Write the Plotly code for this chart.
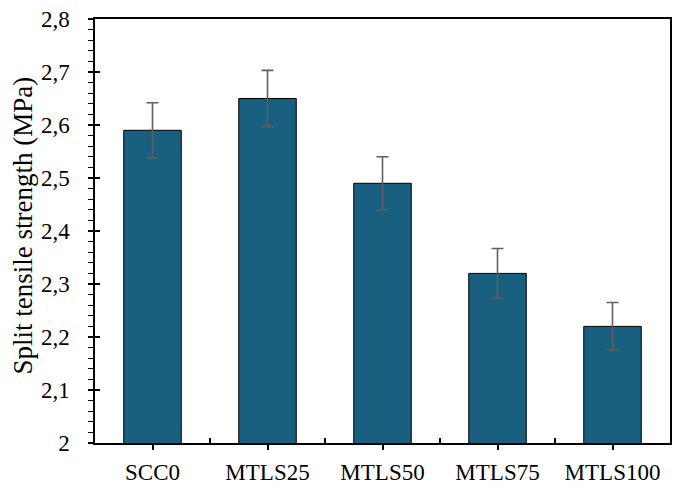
import plotly.graph_objects as go

categories = ["SCC0", "MTLS25", "MTLS50", "MTLS75", "MTLS100"]
strength = [2.59, 2.65, 2.49, 2.32, 2.22]
errors = [0.052, 0.053, 0.050, 0.047, 0.045]
y_title = "Split tensile strength (MPa)"

font_family = "Liberation Serif, Times New Roman, serif"

fig = go.Figure()
fig.add_trace(go.Bar(
    x=categories, y=strength, width=0.5,
    marker=dict(color="#185f80", line=dict(color="#000000", width=1)),
    error_y=dict(type="data", array=errors, visible=True,
                 color="#5f5f5f", thickness=1.6, width=6),
    showlegend=False,
))
# invisible trace for overlay axes (inside ticks)
fig.add_trace(go.Scatter(x=[0], y=[2], xaxis="x2", yaxis="y2",
                         mode="markers", marker=dict(opacity=0),
                         showlegend=False, hoverinfo="skip"))

fig.update_layout(
    width=675, height=485,
    margin=dict(l=95, r=5, t=19, b=42),
    paper_bgcolor="white", plot_bgcolor="white",
    separators=", ",
    font=dict(family=font_family, size=23, color="#000000"),
    bargap=0.5,
    xaxis=dict(
        type="category", showline=True, linecolor="black", linewidth=1.5,
        mirror=True, ticks="outside", ticklen=5, tickwidth=1.5,
        tickcolor="black", showgrid=False, zeroline=False,
        tickfont=dict(size=23), ticklabelstandoff=3, automargin=False,
    ),
    yaxis=dict(
        range=[2, 2.8], dtick=0.1, showline=True, linecolor="black",
        linewidth=1.5, mirror=True, ticks="outside", ticklen=5,
        tickwidth=1.5, tickcolor="black", showgrid=False, zeroline=False,
        tickfont=dict(size=23), ticklabelstandoff=14, automargin=False,
        minor=dict(dtick=0.02, ticks="outside", ticklen=5,
                   tickwidth=1.2, tickcolor="black", showgrid=False),
    ),
    xaxis2=dict(
        overlaying="x", range=[-0.5, 4.5], tickvals=[0.5, 1.5, 2.5, 3.5],
        ticks="inside", ticklen=5, tickwidth=1.5, tickcolor="black",
        showticklabels=False, showgrid=False, zeroline=False,
        showline=False, side="bottom", anchor="y2", automargin=False,
    ),
    yaxis2=dict(
        overlaying="y", range=[2, 2.8], dtick=0.1, ticks="inside",
        ticklen=5, tickwidth=1.5, tickcolor="black",
        showticklabels=False, showgrid=False, zeroline=False,
        showline=False, side="left", anchor="x2", automargin=False,
    ),
    annotations=[dict(
        text=y_title, textangle=-90, xref="paper", yref="paper",
        x=-0.1235, y=0.513, xanchor="center", yanchor="middle",
        showarrow=False, font=dict(size=27),
    )],
)

fig.write_html("out.html", config={"displayModeBar": False},
               post_script="document.body.style.margin='0px';")
